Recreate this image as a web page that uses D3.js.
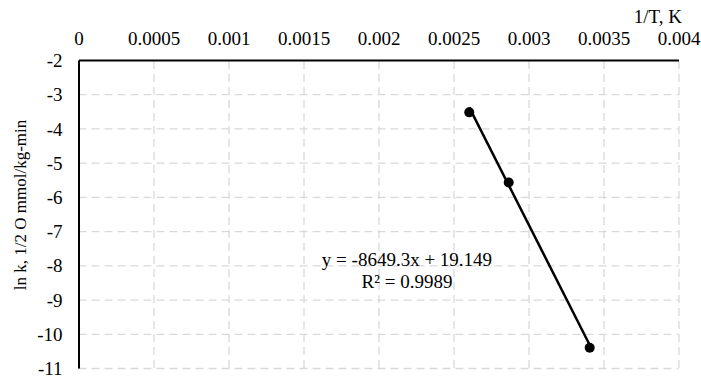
<!DOCTYPE html>
<html>
<head>
<meta charset="utf-8">
<style>
body{ margin:0; background:#fff; }
svg text{ font-family:"Liberation Serif","Times New Roman",serif; fill:#000; }
.grid line{ stroke:#d9d9d9; stroke-width:1.3px; stroke-dasharray:8,5; }
.grid path{ stroke-width:0; }
</style>
</head>
<body>
<script src="https://cdn.jsdelivr.net/npm/d3@7/dist/d3.min.js"></script>
<script>
  var WIDTH = 701;
  var HEIGHT = 378;
  var FONT = "19px";

  // data
  var invT = [0.002605, 0.002868, 0.003408];
  var lnK = [-3.53, -5.58, -10.41];
  var xTicks = [0, 0.0005, 0.001, 0.0015, 0.002, 0.0025, 0.003, 0.0035, 0.004];
  var yTicks = [-2, -3, -4, -5, -6, -7, -8, -9, -10, -11];
  var slope = -8649.3;
  var intercept = 19.149;
  var eqLines = ["y = -8649.3x + 19.149", "R\u00b2 = 0.9989"];

  var points = invT.map((d,i) => [invT[i], lnK[i]]);

  var xScale = d3.scaleLinear()
    .range([78.5, 678.5])
    .domain([0, 0.004]);

  var yScale = d3.scaleLinear()
    .range([60, 368])
    .domain([-2, -11]);

  var svg = d3.select("body").append("svg")
    .attr("width", WIDTH)
    .attr("height", HEIGHT);

  // grid
  var gridV = d3.axisBottom(xScale)
    .tickValues(xTicks.slice(1))
    .tickSize(-(yScale.range()[1] - yScale.range()[0]))
    .tickFormat("");

  var gridH = d3.axisLeft(yScale)
    .tickValues(yTicks.slice(1))
    .tickSize(-(xScale.range()[1] - xScale.range()[0]))
    .tickFormat("");

  svg.append("g")
    .attr("class", "grid")
    .attr("transform", `translate(0,${yScale.range()[1]})`)
    .call(gridV);

  svg.append("g")
    .attr("class", "grid")
    .attr("transform", `translate(${xScale.range()[0]},0)`)
    .call(gridH);

  // axes lines (top and left)
  var xAxis = d3.axisTop(xScale)
    .tickValues(xTicks)
    .tickSize(0)
    .tickPadding(15)
    .tickFormat(d => String(+d.toFixed(4)));

  var yAxis = d3.axisLeft(yScale)
    .tickValues(yTicks)
    .tickSize(0)
    .tickPadding(16)
    .tickFormat(d => String(d).replace("\u2212", "-"));

  var gx = svg.append("g")
    .attr("transform", `translate(0,${yScale.range()[0]})`)
    .call(xAxis);
  var gy = svg.append("g")
    .attr("transform", `translate(${xScale.range()[0]},0)`)
    .call(yAxis);

  [gx, gy].forEach(g => {
    g.attr("font-family", null).attr("font-size", null);
    g.select("path.domain").attr("stroke", "#000").attr("stroke-width", 2);
    g.selectAll("text").style("font-size", FONT);
  });
  gy.selectAll("text").attr("dy", "0.35em");

  // trendline
  var trend = [d3.min(invT), d3.max(invT)].map(x => [x, slope * x + intercept]);
  var valueline = d3.line()
    .x(d => xScale(d[0]))
    .y(d => yScale(d[1]));

  svg.append("path")
    .attr("d", valueline(trend))
    .attr("fill", "none")
    .attr("stroke", "#000")
    .attr("stroke-width", 2.5);

  svg.selectAll("circle.datum")
    .data(points)
    .enter()
    .append("circle")
      .attr("class", "datum")
      .attr("cx", d => xScale(d[0]))
      .attr("cy", d => yScale(d[1]))
      .attr("r", 5)
      .attr("fill", "#000");

  // equation label
  svg.append("text")
    .attr("x", 407)
    .attr("y", 266)
    .attr("text-anchor", "middle")
    .style("font-size", FONT)
    .selectAll("tspan")
    .data(eqLines)
    .enter()
    .append("tspan")
      .attr("x", 407)
      .attr("dy", (d,i) => i === 0 ? 0 : 21.5)
      .text(d => d);

  // axis titles
  svg.append("text")
    .attr("x", 682)
    .attr("y", 23)
    .attr("text-anchor", "end")
    .style("font-size", FONT)
    .text("1/T, K");

  svg.append("text")
    .attr("transform", "translate(26,205) rotate(-90)")
    .attr("text-anchor", "middle")
    .style("font-size", "17px")
    .text("ln k, 1/2 O mmol/kg-min");
</script>
</body>
</html>
